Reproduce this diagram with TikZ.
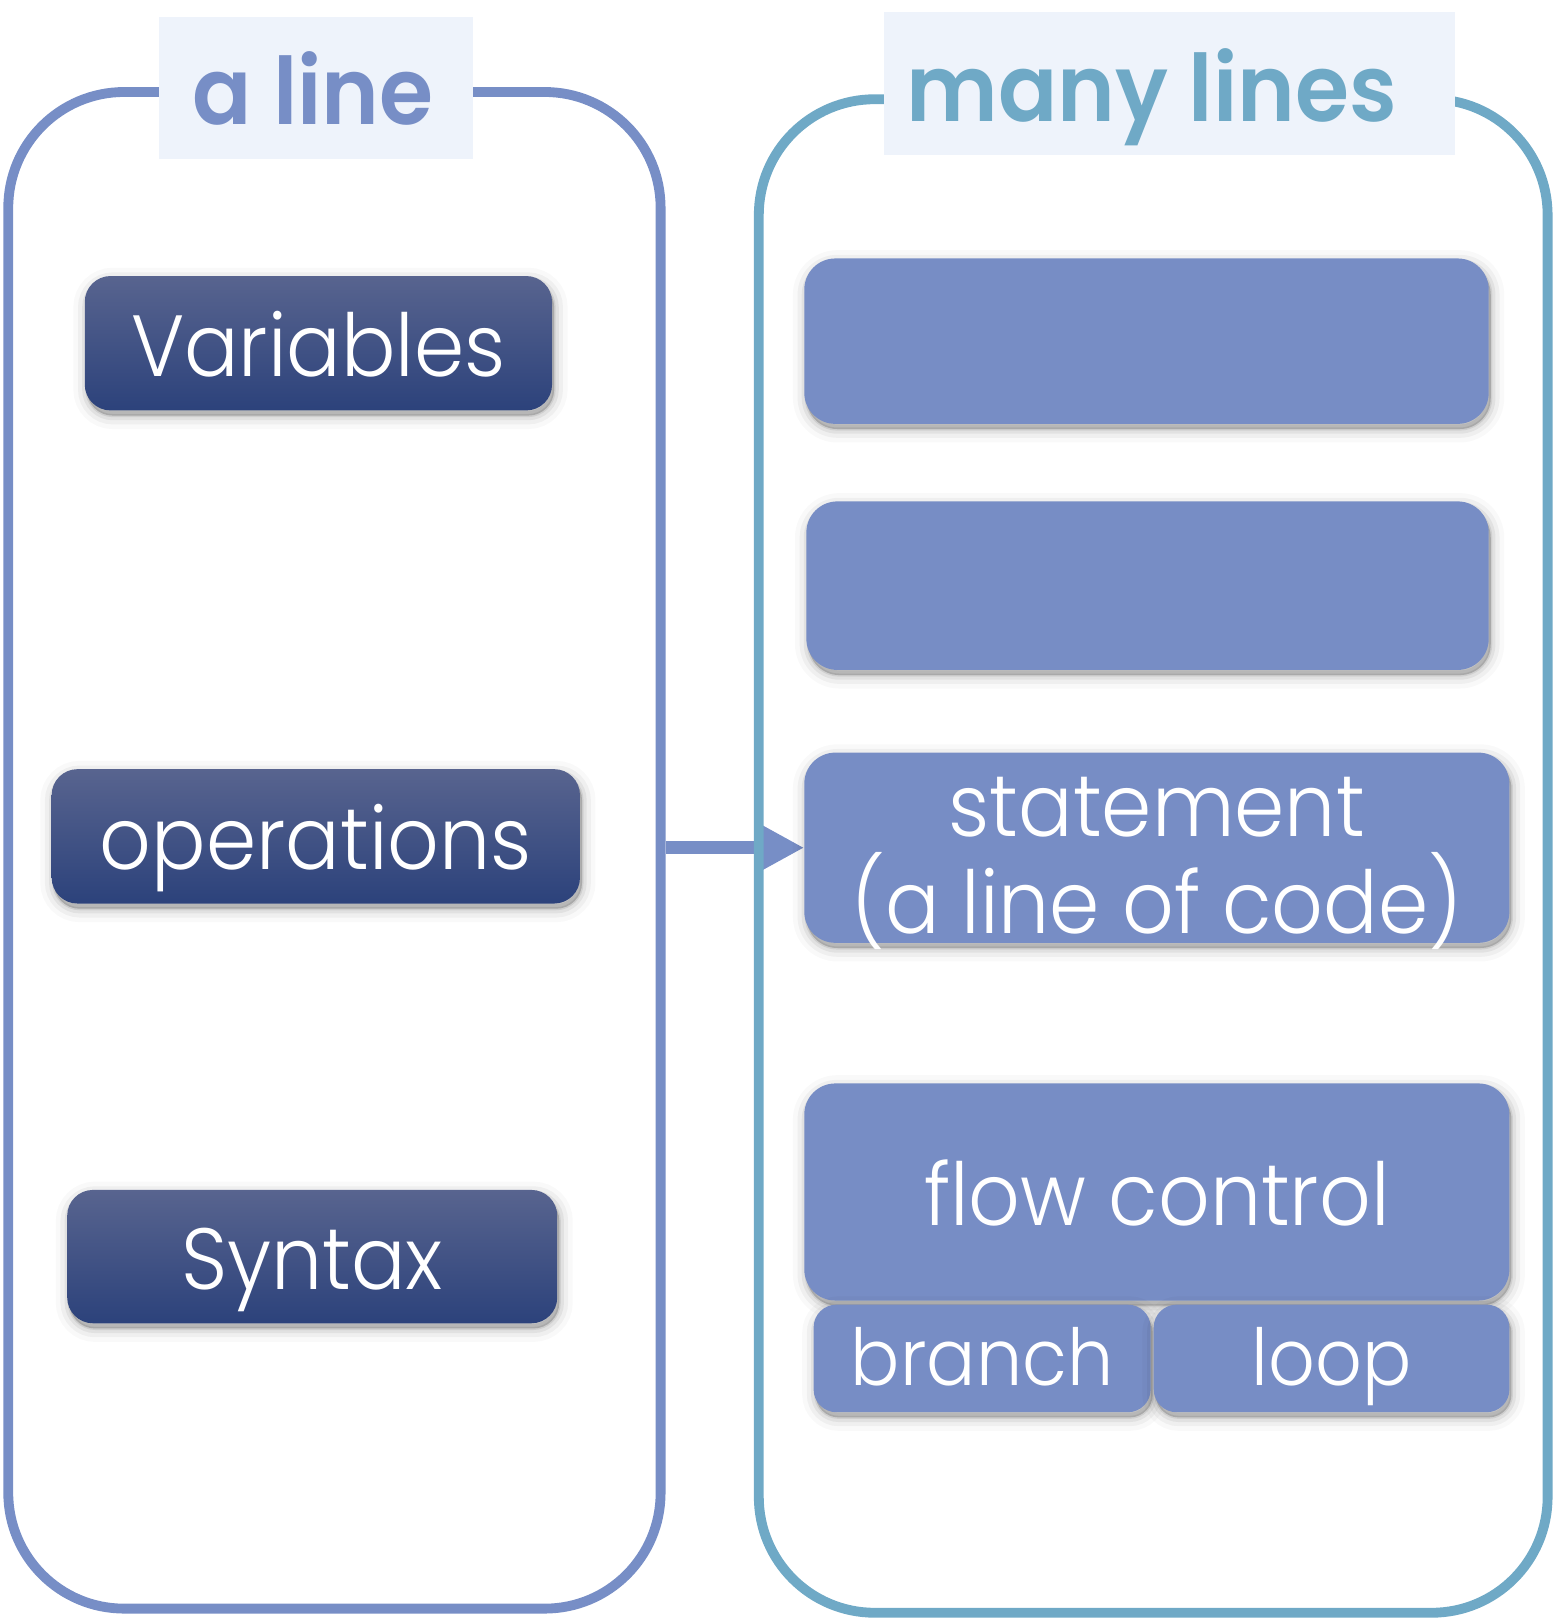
\documentclass[tikz,border=0pt]{standalone}
\usepackage{fontspec}
\setmainfont{Poppins}
\newfontfamily\lightfont{Poppins Light}[FakeStretch=0.93]
\newfontfamily\titlefont{Poppins SemiBold}[FakeStretch=0.94]
\usetikzlibrary{arrows.meta,shadows}
\definecolor{lineblue}{HTML}{778EC6}
\definecolor{tealline}{HTML}{6FA9C6}
\definecolor{titlefill}{HTML}{EEF3FB}
\definecolor{boxfill}{HTML}{778DC5}
\definecolor{dtop}{HTML}{58648F}
\definecolor{dbot}{HTML}{2C427B}
\pgfdeclarelayer{bg}
\pgfsetlayers{bg,main}
\tikzset{
  frame/.style={line width=9.5pt, rounded corners=112pt, inner sep=0pt, outer sep=4.75pt},
  titlebox/.style={fill=titlefill, inner sep=0pt},
  titletext/.style={font=\titlefont\fontsize{90}{96}\selectfont, inner sep=0pt, anchor=base},
  shadowed/.style={
    general shadow={fill=black, draw=black, line width=26pt, opacity=0.025, shadow xshift=2pt, shadow yshift=-5pt},
    general shadow={fill=black, draw=black, line width=17pt, opacity=0.04, shadow xshift=2pt, shadow yshift=-5pt},
    general shadow={fill=black, draw=black, line width=9pt, opacity=0.06, shadow xshift=2pt, shadow yshift=-5pt},
    general shadow={fill=black, draw=black, line width=3pt, opacity=0.08, shadow xshift=2pt, shadow yshift=-5pt}},
  darkbox/.style={shadowed, rounded corners=25pt, top color=dtop, bottom color=dbot, text=white,
    font=\lightfont\fontsize{84}{94}\selectfont, inner sep=0pt, text height=64pt, text depth=0pt},
  lightbox/.style={shadowed, rounded corners=30pt, fill=boxfill, text=white,
    font=\lightfont\fontsize{84}{94}\selectfont, inner sep=0pt},
  smallbox/.style={lightbox, rounded corners=22pt, minimum height=104pt,
    font=\lightfont\fontsize{76}{80}\selectfont, text height=52pt, text depth=0pt},
  arrowline/.style={draw=lineblue, line width=12.5pt, -{Triangle[length=40pt,width=40pt]}}
}
\begin{document}
\begin{tikzpicture}[x=1pt,y=-1pt]
\useasboundingbox (0,0) rectangle (1504,1568);
% containers
\node[frame, draw=lineblue, minimum width=631pt, minimum height=1467pt] (leftc) at (323.5,822.5) {};
\node[frame, draw=tealline, minimum width=763pt, minimum height=1464pt] (rightc) at (1115.5,828) {};
% titles
\node[titlebox, minimum width=304pt, minimum height=138pt] (ltitle) at (306,85) {};
\node[titlebox, minimum width=552pt, minimum height=138pt] (rtitle) at (1131,81) {};
\node[titletext, text=lineblue] (ltext) at (303,120) {a line};
\node[titletext, text=tealline] (rtext) at (1114,118) {many lines};
% left boxes
\node[darkbox, minimum width=452pt, minimum height=130pt] (vars) at (308,332) {Variables};
\node[darkbox, minimum width=511pt, minimum height=130pt] (ops) at (305.5,809) {operations};
\node[darkbox, minimum width=474pt, minimum height=129pt] (syn) at (302,1215.5) {Syntax};
% right boxes
\node[lightbox, minimum width=662pt, minimum height=160pt] (b1) at (1109,330) {};
\node[lightbox, minimum width=660pt, minimum height=163pt] (b2) at (1110,566.5) {};
\node[lightbox, minimum width=682pt, minimum height=184pt, align=center, text height=166pt, text depth=0pt] (stmt) at (1119,820) {statement\\(a line of code)};
\node[lightbox, minimum width=682pt, minimum height=210pt, text height=64pt, text depth=0pt] (flow) at (1119,1153) {flow control};
\node[smallbox, minimum width=326pt] (branch) at (950,1314) {branch};
\node[smallbox, minimum width=344pt] (loop) at (1288,1314) {loop};
% arrow
\begin{pgfonlayer}{bg}
\draw[arrowline] (leftc.east |- stmt.west) -- (stmt.west);
\end{pgfonlayer}
\end{tikzpicture}
\end{document}
